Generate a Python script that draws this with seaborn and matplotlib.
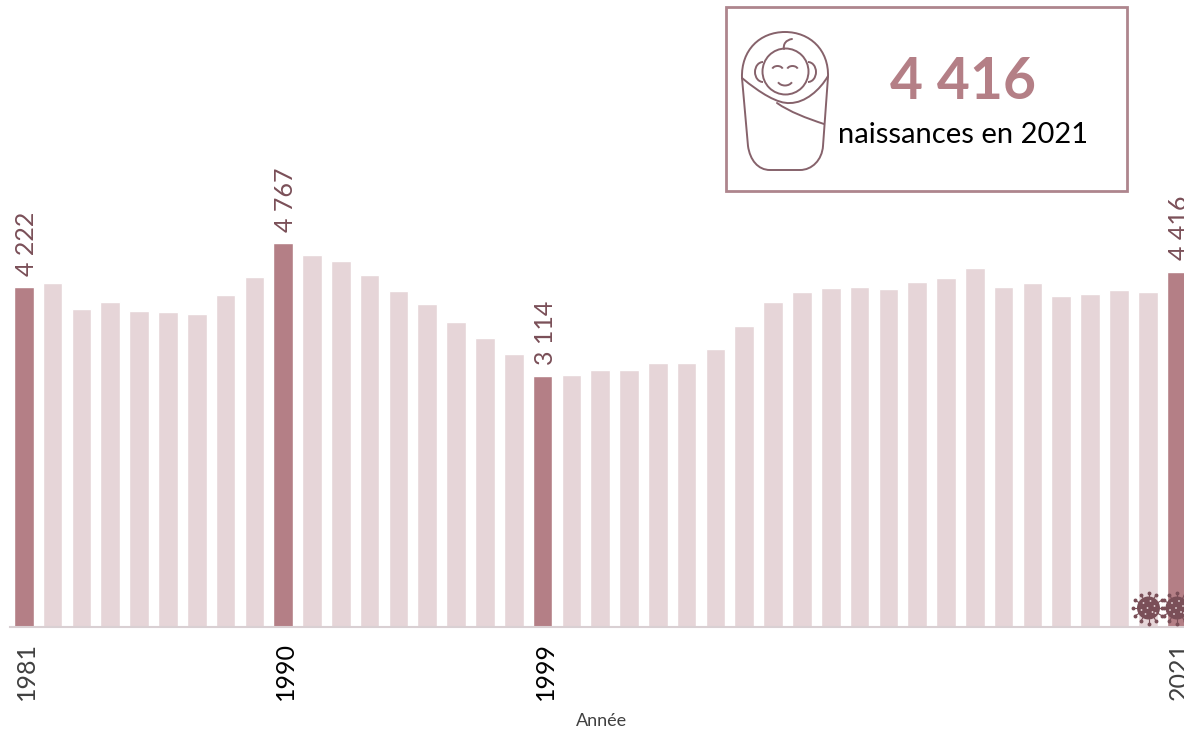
import numpy as np
import pandas as pd
import seaborn as sns
import matplotlib
matplotlib.use("Agg")
import matplotlib.pyplot as plt
from matplotlib.patches import Arc, Circle, PathPatch, Rectangle
from matplotlib.path import Path
from matplotlib.transforms import ScaledTranslation

# Values
years = list(range(1981, 2022))
births = [4222, 4270, 3948, 4035, 3923, 3910, 3892, 4122, 4346, 4767,
          4620, 4545, 4377, 4172, 4010, 3786, 3587, 3387, 3114, 3125,
          3194, 3194, 3275, 3281, 3456, 3736, 4035, 4159, 4215, 4222,
          4197, 4284, 4335, 4456, 4222, 4276, 4116, 4134, 4191, 4159, 4416]
highlight_years = [1981, 1990, 1999, 2021]
highlight_labels = ["4 222", "4 767", "3 114", "4 416"]
tick_colors = ["#404040", "#000000", "#000000", "#404040"]

DARK = "#B47F86"
LIGHT = "#E6D5D8"
INK = "#7A4F58"
LINE = "#86626B"

sns.set_theme(style="white")
plt.rcParams["font.family"] = ["Lato", "DejaVu Sans"]

df = pd.DataFrame({"year": years, "births": births})
df["group"] = np.where(df["year"].isin(highlight_years), "dark", "light")

fig = plt.figure(figsize=(11.84, 7.29), dpi=100)
ax = fig.add_axes([10 / 1184, (729 - 627) / 729, 1174 / 1184, 627 / 729])
sns.barplot(data=df, x="year", y="births", hue="group", dodge=False,
            palette={"dark": DARK, "light": LIGHT}, width=0.68,
            legend=False, ax=ax, saturation=1)

ax.set_xlim(-0.479, 40.259)
ax.set_ylim(0, 627 / 0.0805)
ax.set_ylabel("")
ax.set_xlabel("")
ax.set_yticks([])
sns.despine(ax=ax, left=True)
ax.spines["bottom"].set_color("#D9D0D3")
ax.spines["bottom"].set_linewidth(1.5)

# only the highlighted years get a tick label and a value
positions = [years.index(y) for y in highlight_years]
ax.set_xticks(positions)
ax.set_xticklabels(highlight_years, rotation=90, fontsize=18)
ax.tick_params(axis="x", length=0, pad=32)
nudge = ScaledTranslation(2 / 72, 0, fig.dpi_scale_trans)
for tick, col in zip(ax.get_xticklabels(), tick_colors):
    tick.set_color(col)
    tick.set_clip_on(False)
    tick.set_va("center")
    tick.set_transform(tick.get_transform() + nudge)

for pos, lab in zip(positions, highlight_labels):
    ax.annotate(lab, (pos, births[pos]), xytext=(2, 8.2), textcoords="offset points",
                rotation=90, ha="center", va="bottom", fontsize=18, color=INK,
                annotation_clip=False)

# overlay in pixel coordinates for the box and the icons
ov = fig.add_axes([0, 0, 1, 1])
ov.set_xlim(0, 1184)
ov.set_ylim(729, 0)
ov.axis("off")
ov.patch.set_alpha(0)

ov.add_patch(Rectangle((726, 7), 401, 184, fill=False, ec="#AE858D", lw=2))
ov.text(963, 82, "4 416", ha="center", va="center", fontsize=41,
        fontweight="bold", color=DARK)
ov.text(963, 135, "naissances en 2021", ha="center", va="center",
        fontsize=21, color="black")


def stroke(verts, codes):
    ov.add_patch(PathPatch(Path(verts, codes), fill=False, ec=LINE, lw=1.4,
                           capstyle="round"))


M, L, C = Path.MOVETO, Path.LINETO, Path.CURVE4

# baby icon
stroke([(742, 78), (741, 50), (760, 32), (785, 32), (810, 32), (829, 50), (828, 77),
        (823, 146), (822, 160), (812, 170), (800, 170), (770, 170), (758, 170),
        (750, 160), (748, 146), (742, 78)],
       [M, C, C, C, C, C, C, L, C, C, C, L, C, C, C, L])
stroke([(742, 78), (760, 93), (778, 104), (790, 103), (805, 103), (820, 90), (828, 76)],
       [M, C, C, C, C, C, C])
stroke([(777, 103), (790, 112), (806, 118), (824, 124)], [M, C, C, C])
ov.add_patch(Circle((785.5, 71.5), 23, fill=False, ec=LINE, lw=1.4))
ov.add_patch(Arc((763, 72), 16, 20, theta1=90, theta2=270, ec=LINE, lw=1.4))
ov.add_patch(Arc((808, 72), 16, 20, theta1=-90, theta2=90, ec=LINE, lw=1.4))
ov.add_patch(Arc((777.5, 70), 11, 8, theta1=195, theta2=345, ec=LINE, lw=1.4))
ov.add_patch(Arc((792.5, 70), 11, 8, theta1=195, theta2=345, ec=LINE, lw=1.4))
ov.add_patch(Arc((785, 79), 16, 13, theta1=25, theta2=155, ec=LINE, lw=1.4))
stroke([(784, 49), (783, 44), (786, 40), (792, 39)], [M, C, C, C])


def virus(cx, cy):
    for a in np.radians(np.arange(0, 360, 30)):
        ov.plot([cx + 11 * np.cos(a), cx + 15 * np.cos(a)],
                [cy + 11 * np.sin(a), cy + 15 * np.sin(a)], color=INK, lw=0.8)
        ov.plot(cx + 15.5 * np.cos(a), cy + 15.5 * np.sin(a), "o", color=INK, ms=1.8)
    ov.add_patch(Circle((cx, cy), 11.5, fc=INK, ec="none"))
    for dx, dy in [(-5, -5), (2, -7), (6, -2), (-7, 2), (-1, 0), (4, 4), (-3, 6), (7, 5)]:
        ov.add_patch(Circle((cx + dx, cy + dy), 0.9, fc="#E8D8DB", ec="none"))


virus(1148.5, 608)
virus(1177, 608)

ov.text(602, 721, "Année", ha="center", va="center", fontsize=13, color="#404040")

fig.savefig("out.png", dpi=100)
